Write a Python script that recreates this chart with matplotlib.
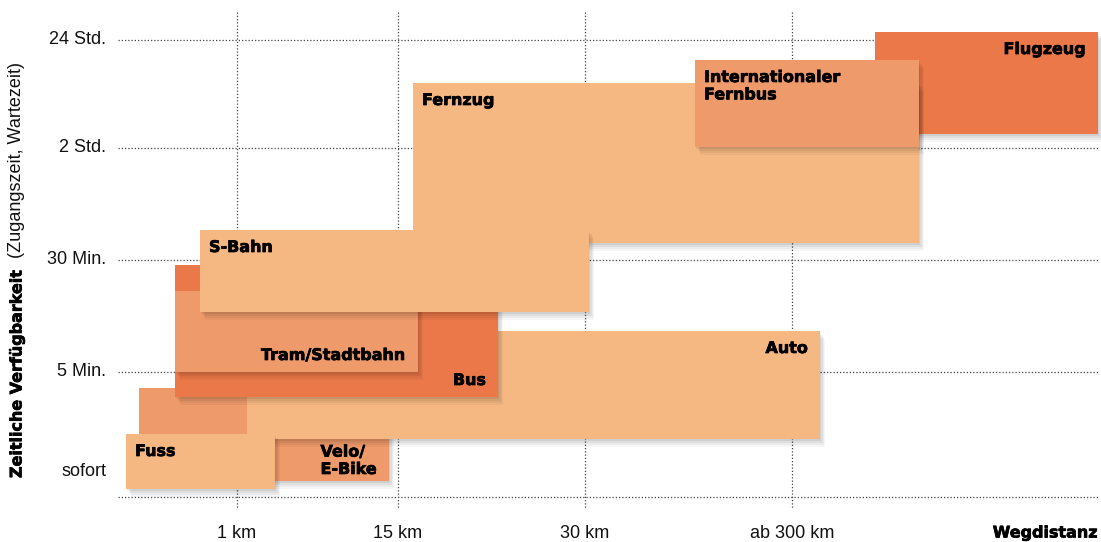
import matplotlib
matplotlib.use("Agg")
import matplotlib.pyplot as plt
from matplotlib.patches import Rectangle
import matplotlib.patheffects as pe

# ---- data (chart units: x = distance position, y = availability position, y grows downward)
modes = ["Flugzeug", "Fernzug", "Internationaler\nFernbus", "Velo/\nE-Bike", "Auto",
         "Bus", "Tram/Stadtbahn", "S-Bahn", "Fuss"]
x_start = [875, 413, 695, 139, 247, 175, 175, 200, 126]
x_end   = [1098, 919, 919, 389, 820, 498, 418, 589, 275]
y_top   = [32, 83, 60, 388, 331, 265, 291, 230, 434]
y_bot   = [134, 243, 147, 481, 439, 397, 372, 312, 489]
shade   = ["dark", "light", "mid", "mid", "light", "dark", "mid", "light", "light"]
label_side = ["right", "left", "left", "right", "right", "right", "right", "left", "left"]
label_row  = ["top", "top", "top", "bottom", "top", "bottom", "bottom", "top", "top"]

x_ticks = [237, 398, 585, 792]
x_tick_labels = ["1 km", "15 km", "30 km", "ab 300 km"]
y_ticks = [40, 148, 260, 372, 472]
y_tick_labels = ["24 Std.", "2 Std.", "30 Min.", "5 Min.", "sofort"]
y_grid = [40, 148, 260, 372, 497]

colors = {"light": "#F6B882", "mid": "#EF9A6A", "dark": "#EB7848"}

fig = plt.figure(figsize=(11.01, 5.42), dpi=100)
ax = fig.add_axes([0, 0, 1, 1])
ax.set_xlim(0, 1101)
ax.set_ylim(542, 0)
ax.axis("off")

grid_kw = dict(color="#444444", linewidth=0.9, linestyle=(0, (1, 1.6)), zorder=0)
for y in y_grid:
    ax.plot([118, 1098], [y, y], **grid_kw)
for x in x_ticks:
    ax.plot([x, x], [12, 508], **grid_kw)

heavy = [pe.withStroke(linewidth=0.5, foreground="black")]
label_font = dict(family="DejaVu Sans", fontweight="bold", fontsize=11.5,
                  color="black", linespacing=1.2, path_effects=heavy)

shadow = [pe.SimplePatchShadow(offset=(o * 0.6, -o), shadow_rgbFace="black", alpha=a)
          for o, a in [(6, 0.035), (4.5, 0.045), (3, 0.055), (1.5, 0.065)]] + [pe.Normal()]

for i, name in enumerate(modes):
    x0, x1, y0, y1 = x_start[i], x_end[i], y_top[i], y_bot[i]
    r = Rectangle((x0, y0), x1 - x0, y1 - y0, facecolor=colors[shade[i]],
                  edgecolor="none", zorder=2 + i)
    r.set_path_effects(shadow)
    ax.add_patch(r)
    if label_side[i] == "left":
        tx, ha = x0 + 9, "left"
    else:
        tx, ha = x1 - 12, "right"
    if label_row[i] == "top":
        ty, va = y0 + 10, "top"
    else:
        ty, va = y1 - 12, "baseline"
        if "\n" in name:
            ty, va = y1 - 4, "bottom"
    ax.text(tx, ty, name, ha=ha, va=va, multialignment="left",
            zorder=2 + i + 0.5, **label_font)

tick_font = dict(family=["Liberation Sans", "DejaVu Sans"], fontsize=13, color="#111111")
for y, t in zip(y_ticks, y_tick_labels):
    ax.text(106, y, t, ha="right", va="center", **tick_font)
for x, t in zip(x_ticks, x_tick_labels):
    ax.text(x, 533, t, ha="center", va="center", **tick_font)

ax.text(1098, 533, "Wegdistanz", ha="right", va="center",
        family="DejaVu Sans", fontweight="bold", fontsize=11.5, path_effects=heavy)
ax.text(17, 478, "Zeitliche Verfügbarkeit", rotation=90, ha="center", va="bottom",
        family="DejaVu Sans", fontweight="bold", fontsize=11.5, path_effects=heavy)
ax.text(17, 258, "(Zugangszeit, Wartezeit)", rotation=90, ha="center", va="bottom",
        family=["Liberation Sans", "DejaVu Sans"], fontsize=13, color="#111111")

fig.savefig("out.png", dpi=100)
